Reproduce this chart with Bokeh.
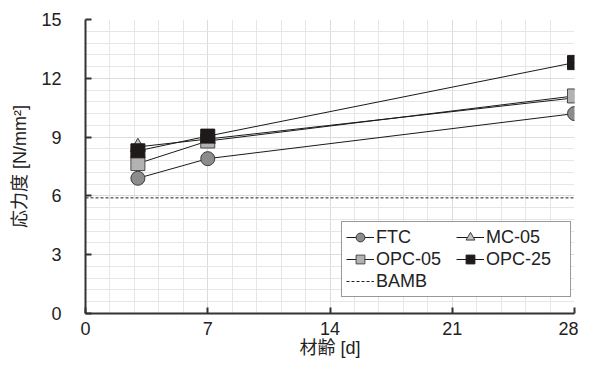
import numpy as np
from bokeh.plotting import figure
from bokeh.models import Range1d, FixedTicker, Legend, LegendItem
from bokeh.embed import file_html
from bokeh.resources import INLINE

# ---- data ----
days = [3, 7, 28]
ftc = [6.9, 7.9, 10.2]
mc05 = [8.5, 8.9, 11.0]
opc05 = [7.65, 8.8, 11.1]
opc25 = [8.3, 9.05, 12.8]
bamb_x = [0, 28]
bamb_y = [5.9, 5.9]
x_ticks = [0, 7, 14, 21, 28]
y_ticks = [0, 3, 6, 9, 12, 15]

FONT = "Liberation Sans"
JFONT = "Liberation Sans, Noto Sans CJK JP"

p = figure(width=578, height=360, output_backend="svg", toolbar_location=None,
           x_range=Range1d(0, 28), y_range=Range1d(0, 15),
           min_border_left=85, min_border_right=4, min_border_top=19, min_border_bottom=40)
p.outline_line_color = None
p.background_fill_color = "white"
p.border_fill_color = "white"

x_minor = [v for v in np.arange(0, 28.01, 1.4) if all(abs(v - t) > 1e-6 for t in x_ticks)]
y_minor = [v for v in np.arange(0, 15.01, 0.6) if all(abs(v - t) > 1e-6 for t in y_ticks)]
p.xaxis.ticker = FixedTicker(ticks=x_ticks, minor_ticks=x_minor)
p.yaxis.ticker = FixedTicker(ticks=y_ticks, minor_ticks=y_minor)

for g in (p.xgrid, p.ygrid):
    g.grid_line_color = "#dcdcdc"
    g.grid_line_width = 1
    g.minor_grid_line_color = "#e6e6e6"
    g.minor_grid_line_width = 1

for ax in (p.xaxis, p.yaxis):
    ax.axis_line_color = "#333333"
    ax.axis_line_width = 2
    ax.major_tick_in = 6
    ax.major_tick_out = 0
    ax.major_tick_line_color = "#333333"
    ax.major_tick_line_width = 2
    ax.minor_tick_in = 0
    ax.minor_tick_out = 0
    ax.major_label_text_font = FONT
    ax.major_label_text_font_size = "18px"
    ax.major_label_text_color = "#222222"
    ax.axis_label_text_font = JFONT
    ax.axis_label_text_font_size = "18px"
    ax.axis_label_text_font_style = "normal"
    ax.axis_label_text_color = "#222222"

p.xaxis.major_label_standoff = 8
p.yaxis.major_label_standoff = 24
p.xaxis.axis_label = "材齢 [d]"
p.yaxis.axis_label = "応力度 [N/mm²]"
p.xaxis.axis_label_standoff = 0
p.yaxis.axis_label_standoff = 8

# BAMB line
bl = p.line(bamb_x, bamb_y, line_color="#222222", line_width=1, line_dash="3 2")

series = [
    ("FTC", ftc, "circle", "#8c8c8c", "#3a3a3a", 14),
    ("MC-05", mc05, "triangle", "#c4c4c4", "#3a3a3a", 15),
    ("OPC-05", opc05, "square", "#b2b2b2", "#4a4a4a", 14),
    ("OPC-25", opc25, "square", "#1e1a1a", "#1e1a1a", 14),
]
items = {}
for name, ys, marker, fill, edge, sz in series:
    l = p.line(days, ys, line_color="#1a1a1a", line_width=1)
    s = p.scatter(days, ys, marker=marker, size=sz, fill_color=fill,
                  line_color=edge, line_width=1)
    items[name] = LegendItem(label=name, renderers=[l, s])
items["BAMB"] = LegendItem(label="BAMB", renderers=[bl])

legend = Legend(items=[items["FTC"], items["OPC-05"], items["BAMB"], items["MC-05"], items["OPC-25"]],
                nrows=3, ncols=2,
                location=(256, 16), border_line_color="#333333", border_line_width=1,
                background_fill_color="white", background_fill_alpha=1,
                label_text_font=FONT, label_text_font_size="18px", label_text_color="#222222",
                glyph_width=28, glyph_height=22, label_standoff=2, label_height=20,
                label_width=80, spacing=0, padding=4, margin=0)
p.add_layout(legend, "center")

open("out.html", "w").write(file_html(p, INLINE))
